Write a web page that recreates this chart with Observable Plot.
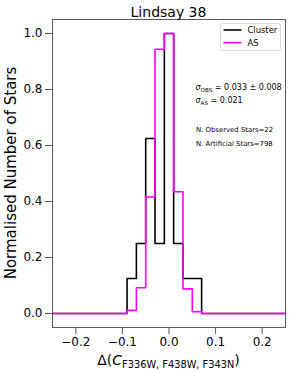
<!DOCTYPE html>
<html><head><meta charset="utf-8">
<script src="https://cdn.jsdelivr.net/npm/d3@7"></script>
<script src="https://cdn.jsdelivr.net/npm/@observablehq/plot@0.6"></script>
<style>body{margin:0;background:#fff} svg{display:block}</style>
</head><body><div id="chart"></div>
<script>
const chartTitle = "Lindsay 38";
const yLabel = "Normalised Number of Stars";
const binEdges = [-0.25, -0.09, -0.07, -0.05, -0.03, -0.01, 0.01, 0.03, 0.05, 0.07, 0.25];
const clusterValues = [0, 0.125, 0.25, 0.625, 0.25, 1.0, 0.25, 0.125, 0.125, 0];
const asValues = [0, 0.011, 0.092, 0.416, 0.944, 1.0, 0.435, 0.088, 0.006, 0];
const xTicks = [-0.2, -0.1, 0.0, 0.1, 0.2];
const yTicks = [0.0, 0.2, 0.4, 0.6, 0.8, 1.0];
const seriesNames = ["Cluster", "AS"];
const seriesColors = ["#000000", "#ff00ff"];
const sigmaObsText = " = 0.033 \u00b1 0.008";
const sigmaAsText = " = 0.021";
const observedText = "N. Observed Stars=22";
const artificialText = "N. Artificial Stars=798";

const W = 298, H = 373, mL = 52, mR = 13, mT = 19, mB = 46;
const fmt = d => d.toFixed(1).replace("-", "\u2212");
function steps(vals) {
  return binEdges.map((e, i) => ({x: e, y: vals[Math.min(i, vals.length - 1)]}));
}

const chart = Plot.plot({
  width: W, height: H,
  marginLeft: mL, marginRight: mR, marginTop: mT, marginBottom: mB,
  style: {fontFamily: "'DejaVu Sans', sans-serif", background: "#fff", color: "#000", overflow: "visible"},
  x: {domain: [-0.25, 0.25]},
  y: {domain: [-0.05, 1.05]},
  marks: [
    Plot.line(steps(clusterValues), {x: "x", y: "y", curve: "step-after", stroke: seriesColors[0], strokeWidth: 1.6}),
    Plot.line(steps(asValues), {x: "x", y: "y", curve: "step-after", stroke: seriesColors[1], strokeWidth: 1.6}),
    Plot.frame({stroke: "#595959"}),
    Plot.axisX({ticks: xTicks, tickFormat: fmt, tickSize: 7, tickPadding: 3, fontSize: 12, stroke: "#595959", fill: "#000", label: null}),
    Plot.axisY({ticks: yTicks, tickFormat: fmt, tickSize: 7, tickPadding: 3, fontSize: 12, stroke: "#595959", fill: "#000", label: null})
  ]
});
document.getElementById("chart").appendChild(chart);

const svg = d3.select(chart);
const font = "'DejaVu Sans', sans-serif";
const fx0 = mL, fx1 = W - mR, fy0 = mT, fy1 = H - mB;
const cx = (fx0 + fx1) / 2;

// title
svg.append("text").attr("x", cx).attr("y", 17).attr("text-anchor", "middle")
  .attr("font-family", font).attr("font-size", 14).attr("fill", "#000").text(chartTitle);

// y label
svg.append("text").attr("transform", `translate(16,${(fy0 + fy1) / 2}) rotate(-90)`)
  .attr("text-anchor", "middle").attr("font-family", font).attr("font-size", 15).attr("fill", "#000").text(yLabel);

// x label
const xl = svg.append("text").attr("x", cx).attr("y", 365).attr("text-anchor", "middle")
  .attr("font-family", font).attr("font-size", 14).attr("fill", "#000");
xl.append("tspan").text("\u0394(");
xl.append("tspan").attr("font-style", "italic").text("C");
xl.append("tspan").attr("font-size", 9.8).attr("dy", 3).text("F336W, F438W, F343N");
xl.append("tspan").attr("dy", -3).text(")");

// legend
const lg = svg.append("g");
lg.append("rect").attr("x", fx1 - 64.5).attr("y", 23.5).attr("width", 60).attr("height", 27)
  .attr("rx", 2).attr("fill", "#fff").attr("fill-opacity", 0.8).attr("stroke", "#d0d0d0").attr("stroke-width", 0.8);
seriesNames.forEach((name, i) => {
  const y = 30 + i * 12.7;
  lg.append("line").attr("x1", fx1 - 61.5).attr("x2", fx1 - 43.5).attr("y1", y).attr("y2", y)
    .attr("stroke", seriesColors[i]).attr("stroke-width", 1.6);
  lg.append("text").attr("x", fx1 - 37.5).attr("y", y + 3).attr("text-anchor", "start").attr("font-family", font).attr("font-size", 8.4)
    .attr("fill", "#000").text(name);
});

// annotations
function sigma(y, sub, rest) {
  const t = svg.append("text").attr("x", 195.5).attr("y", y).attr("text-anchor", "start").attr("font-family", font).attr("font-size", 8).attr("fill", "#000");
  t.append("tspan").attr("font-style", "italic").text("\u03c3");
  t.append("tspan").attr("font-size", 5.6).attr("dy", 1.6).text(sub);
  t.append("tspan").attr("dy", -1.6).text(rest);
}
sigma(90, "OBS", sigmaObsText);
sigma(103, "AS", sigmaAsText);
svg.append("text").attr("x", 196).attr("y", 131.5).attr("text-anchor", "start").attr("font-family", font).attr("font-size", 6.9).attr("fill", "#000").text(observedText);
svg.append("text").attr("x", 196).attr("y", 145.5).attr("text-anchor", "start").attr("font-family", font).attr("font-size", 6.9).attr("fill", "#000").text(artificialText);
</script>
</body></html>
